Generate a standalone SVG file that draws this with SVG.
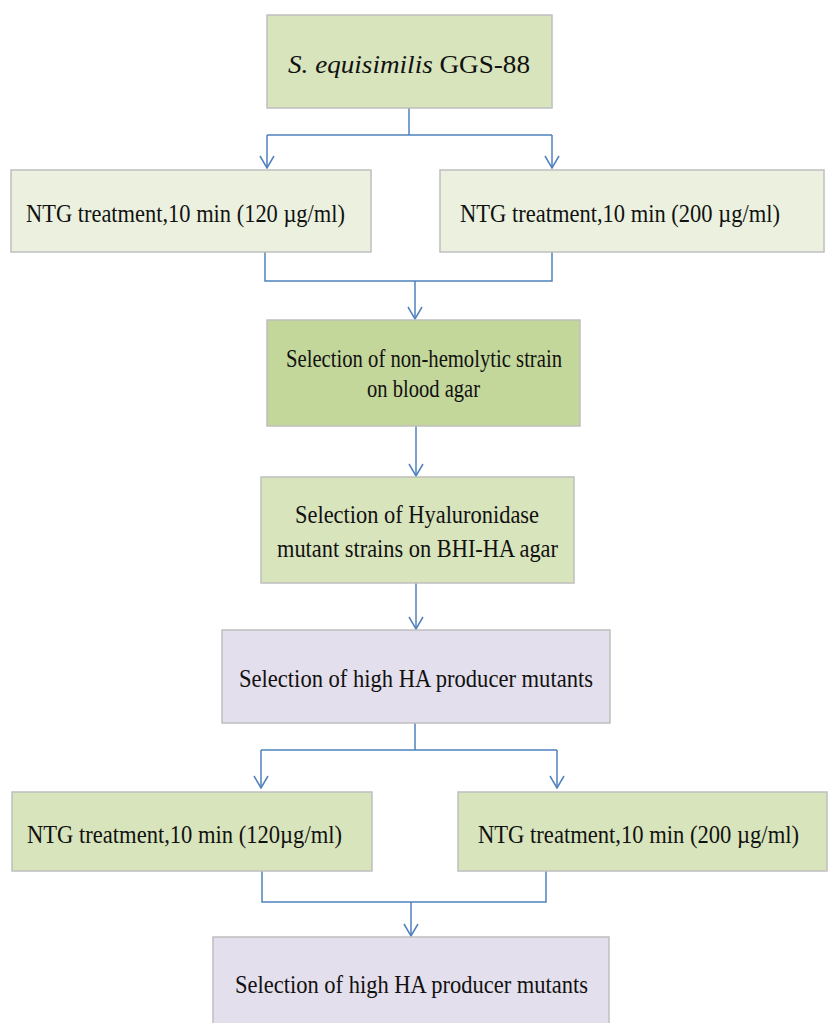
<svg xmlns="http://www.w3.org/2000/svg" width="829" height="1023" viewBox="0 0 829 1023">
<defs>
<marker id="arr" viewBox="0 0 16 16" refX="15" refY="8" markerWidth="16" markerHeight="16" markerUnits="userSpaceOnUse" orient="auto">
<path d="M3 1 L15 8 L3 15" fill="none" stroke="#4f81bd" stroke-width="1.5"/>
</marker>
<style>
.box{stroke:#bfbfbf;stroke-width:1.5}
.g1{fill:#d8e4bc}.g2{fill:#ebf1de}.g3{fill:#c4d79b}.lav{fill:#e4dfec}
.t{font-family:"Liberation Serif","Times New Roman",serif;font-size:26px;fill:#111}
.c{fill:none;stroke:#4f81bd;stroke-width:1.5}
</style>
</defs>
<rect width="829" height="1023" fill="#fff"/>
<g id="connectors">
<path class="c" d="M409 108 V135 M267 135 H552"/>
<path class="c" d="M267 135 V168" marker-end="url(#arr)"/>
<path class="c" d="M552 135 V168" marker-end="url(#arr)"/>
<path class="c" d="M265 252 V281 H552 V252"/>
<path class="c" d="M415 281 V319" marker-end="url(#arr)"/>
<path class="c" d="M416 426 V476" marker-end="url(#arr)"/>
<path class="c" d="M416 583 V629" marker-end="url(#arr)"/>
<path class="c" d="M415 723 V750 M261 750 H557"/>
<path class="c" d="M261 750 V788" marker-end="url(#arr)"/>
<path class="c" d="M557 750 V788" marker-end="url(#arr)"/>
<path class="c" d="M262 871 V902 H546 V871"/>
<path class="c" d="M411 902 V936" marker-end="url(#arr)"/>
</g>
<g id="n1">
<rect class="box g1" x="267" y="15" width="285" height="93"/>
<text class="t" x="288" y="73" font-size="29" textLength="242" lengthAdjust="spacingAndGlyphs"><tspan font-style="italic">S. equisimilis</tspan> GGS-88</text>
</g>
<g id="n2">
<rect class="box g2" x="11" y="170" width="360" height="82"/>
<text class="t" x="26" y="222" textLength="319" lengthAdjust="spacingAndGlyphs">NTG treatment,10 min (120 µg/ml)</text>
</g>
<g id="n3">
<rect class="box g2" x="440" y="170" width="384" height="82"/>
<text class="t" x="460" y="222" textLength="320" lengthAdjust="spacingAndGlyphs">NTG treatment,10 min (200 µg/ml)</text>
</g>
<g id="n4">
<rect class="box g3" x="267" y="320" width="313" height="106"/>
<text class="t" x="286" y="367" textLength="276" lengthAdjust="spacingAndGlyphs">Selection of non-hemolytic strain</text>
<text class="t" x="367" y="397" textLength="113" lengthAdjust="spacingAndGlyphs">on blood agar</text>
</g>
<g id="n5">
<rect class="box g1" x="261" y="477" width="313" height="106"/>
<text class="t" x="295" y="523" textLength="244" lengthAdjust="spacingAndGlyphs">Selection of Hyaluronidase</text>
<text class="t" x="277" y="557" textLength="281" lengthAdjust="spacingAndGlyphs">mutant strains on BHI-HA agar</text>
</g>
<g id="n6">
<rect class="box lav" x="222" y="630" width="388" height="93"/>
<text class="t" x="239" y="687" textLength="354" lengthAdjust="spacingAndGlyphs">Selection of high HA producer mutants</text>
</g>
<g id="n7">
<rect class="box g1" x="12" y="792" width="360" height="79"/>
<text class="t" x="27" y="843" textLength="315" lengthAdjust="spacingAndGlyphs">NTG treatment,10 min (120µg/ml)</text>
</g>
<g id="n8">
<rect class="box g1" x="458" y="792" width="369" height="79"/>
<text class="t" x="478" y="843" textLength="321" lengthAdjust="spacingAndGlyphs">NTG treatment,10 min (200 µg/ml)</text>
</g>
<g id="n9">
<rect class="box lav" x="213" y="937" width="396" height="95"/>
<text class="t" x="235" y="993" textLength="353" lengthAdjust="spacingAndGlyphs">Selection of high HA producer mutants</text>
</g>
</svg>
